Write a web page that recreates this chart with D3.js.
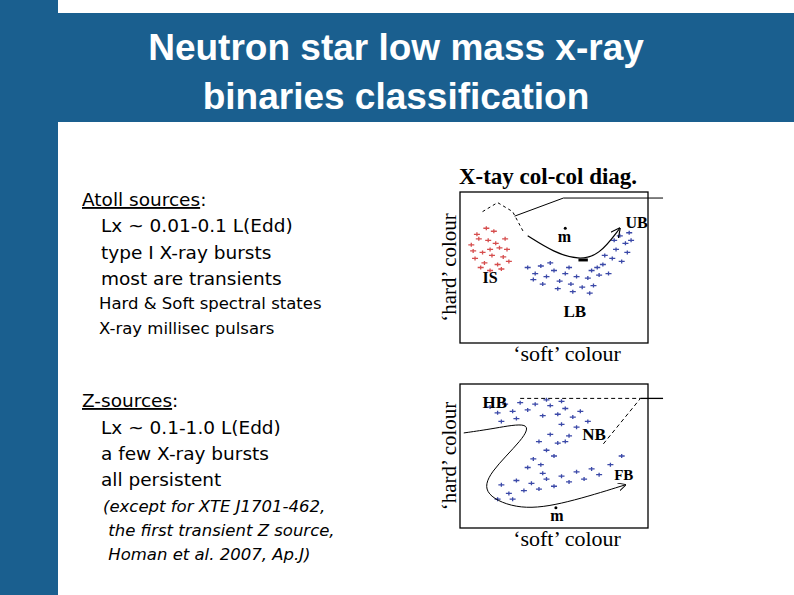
<!DOCTYPE html><html><head><meta charset="utf-8"><script src="https://cdn.jsdelivr.net/npm/d3@7"></script>
<style>body{margin:0}svg{display:block}</style></head><body><svg id="s" width="794" height="595"></svg>
<script>
const titleLines=["Neutron star low mass x-ray","binaries classification"];
const isPts=[[0.6,6.5],[0.9,7.2],[1.2,6.0],[1.5,6.8],[1.8,7.4],[2.1,6.3],[2.4,6.9],[0.8,5.6],[1.3,5.3],[1.7,5.8],[2.0,5.2],[2.3,5.7],[1.0,6.9],[1.6,6.2],[2.5,6.2],[1.4,7.6],[1.9,6.6],[0.7,6.1],[1.1,5.0],[2.2,4.9],[1.6,4.8],[2.6,5.4]];
const lbPts=[[3.6,5.0],[4.0,4.6],[4.3,5.1],[4.6,4.4],[5.0,4.8],[5.3,4.1],[5.6,4.6],[5.9,3.9],[6.2,4.4],[6.5,3.7],[6.8,4.3],[7.1,3.8],[7.4,4.5],[7.6,5.2],[7.9,4.6],[8.1,5.6],[8.3,6.2],[8.6,5.4],[8.8,6.6],[8.5,7.1],[9.0,7.3],[8.2,6.8],[7.7,5.8],[7.3,5.0],[6.0,3.4],[5.2,3.6],[4.4,3.9],[3.9,4.2],[6.9,3.3],[8.9,6.0],[9.1,6.8],[4.8,5.3],[5.8,5.0],[7.0,4.8]];
const hbPts=[[1.6,8.4],[2.0,8.0],[2.4,8.6],[2.8,8.1],[3.2,8.7],[3.6,8.2],[4.0,8.6],[4.4,7.8],[4.8,8.5],[5.2,7.9],[5.6,8.3],[6.0,7.7],[6.4,8.1],[6.8,7.4],[3.0,7.6],[2.2,7.4],[5.4,8.8],[4.6,8.9]];
const nbPts=[[6.2,7.0],[5.8,6.4],[5.4,7.2],[5.2,5.9],[4.8,6.5],[4.6,5.4],[4.2,6.0],[3.9,4.8],[4.3,4.4],[3.6,4.2],[5.0,5.0],[5.6,6.0]];
const fbPts=[[2.2,3.0],[2.6,2.4],[3.0,3.3],[3.4,2.6],[3.8,3.1],[4.2,2.7],[4.6,3.4],[5.0,2.9],[5.4,3.6],[5.8,3.2],[6.2,3.9],[6.6,3.4],[7.0,4.1],[7.4,3.7],[8.0,4.4],[2.0,2.0],[2.8,2.0],[4.4,3.8],[8.6,5.0]];
const atollLines=["Lx ~ 0.01-0.1 L(Edd)","type I X-ray bursts","most are transients"];
const atollSmall=["Hard & Soft spectral states","X-ray millisec pulsars"];
const zLines=["Lx ~ 0.1-1.0 L(Edd)","a few X-ray bursts","all persistent"];
const zSmall=["(except for XTE J1701-462,"," the first transient Z source,"," Homan et al. 2007, Ap.J)"];
const svg=d3.select("#s");
const blue="#1a5f8f";
svg.append("rect").attr("width",794).attr("height",595).attr("fill","#fff");
svg.append("rect").attr("x",0).attr("y",0).attr("width",58).attr("height",595).attr("fill",blue);
svg.append("rect").attr("x",58).attr("y",13).attr("width",736).attr("height",109).attr("fill",blue);
titleLines.forEach((t,i)=>svg.append("text").attr("x",396).attr("y",60+49*i).attr("text-anchor","middle").attr("fill","#fff").attr("font-family","Liberation Sans").attr("font-weight","bold").attr("font-size",37).text(t));
const ff="DejaVu Sans";
function txt(x,y,t,sz,o={}){const e=svg.append("text").attr("x",x).attr("y",y).attr("font-family",ff).attr("font-size",sz).attr("fill","#000").attr("xml:space","preserve").text(t);if(o.it)e.attr("font-style","italic");return e;}
const a=svg.append("text").attr("x",82).attr("y",206).attr("font-family",ff).attr("font-size",18.5);
a.append("tspan").attr("text-decoration","underline").text("Atoll sources");a.append("tspan").text(":");
atollLines.forEach((t,i)=>txt(101,232+26.5*i,t,18.5));
atollSmall.forEach((t,i)=>txt(99,309+24.5*i,t,16.5));
const z=svg.append("text").attr("x",82).attr("y",407).attr("font-family",ff).attr("font-size",18.5);
z.append("tspan").attr("text-decoration","underline").text("Z-sources");z.append("tspan").text(":");
zLines.forEach((t,i)=>txt(101,434+26*i,t,18.5));
zSmall.forEach((t,i)=>txt(103,512+24*i,t,16.5,{it:true}));
const serif="Liberation Serif";
function panel(y0,y1){
 const x=d3.scaleLinear([0,10],[460,648]), y=d3.scaleLinear([0,10],[y1,y0]);
 svg.append("rect").attr("x",460).attr("y",y0).attr("width",188).attr("height",y1-y0).attr("fill","none").attr("stroke","#000").attr("stroke-width",1.3);
 svg.append("text").attr("transform",`translate(456,${(y0+y1)/2}) rotate(-90)`).attr("text-anchor","middle").attr("font-family",serif).attr("font-size",21).text("‘hard’ colour");
 svg.append("text").attr("x",567).attr("y",y1+18).attr("text-anchor","middle").attr("font-family",serif).attr("font-size",22).text("‘soft’ colour");
 return {x,y};
}
const defs=svg.append("defs");
defs.append("marker").attr("id","ar").attr("viewBox","0 0 10 10").attr("refX",9).attr("refY",5).attr("markerWidth",8).attr("markerHeight",8).attr("orient","auto").append("path").attr("d","M0,0L10,5L0,10").attr("fill","none").attr("stroke","#000").attr("stroke-width",1.2);
function pts(p,data,c){svg.append("g").selectAll("path").data(data).join("path").attr("d",d=>`M${p.x(d[0])-3},${p.y(d[1])}l6,0M${p.x(d[0])},${p.y(d[1])-2}l0,4`).attr("stroke",c).attr("stroke-width",1.3).attr("opacity",0.85);}
function line(p,d,o={}){const g=d3.line().x(q=>p.x(q[0])).y(q=>p.y(q[1])).curve(o.curve||d3.curveLinear);const e=svg.append("path").attr("d",g(d)).attr("fill","none").attr("stroke","#000").attr("stroke-width",o.w||1);if(o.dash)e.attr("stroke-dasharray",o.dash);if(o.arrow)e.attr("marker-end","url(#ar)");return e;}
function lab(p,x,y,t,sz=15){svg.append("text").attr("x",p.x(x)).attr("y",p.y(y)).attr("font-family",serif).attr("font-weight","bold").attr("font-size",sz).text(t);}
svg.append("text").attr("x",548).attr("y",184).attr("text-anchor","middle").attr("font-family",serif).attr("font-weight","bold").attr("font-size",23).text("X-tay col-col diag.");
const p1=panel(192,343);
pts(p1,isPts,"#d03030");pts(p1,lbPts,"#1a2a9a");
line(p1,[[1.2,8.7],[2,9.3],[2.8,8.7],[3.4,7.3]],{dash:"3,3"});
line(p1,[[2.9,8.4],[5.5,9.6],[10.8,9.6]]);
line(p1,[[3.6,7.1],[5,6.0],[6.3,5.5],[7.4,5.8],[8.5,7.6]],{curve:d3.curveBasis,arrow:true,w:1.2});
svg.append("line").attr("x1",p1.x(6.3)).attr("x2",p1.x(6.8)).attr("y1",p1.y(5.5)).attr("y2",p1.y(5.5)).attr("stroke","#000").attr("stroke-width",3);
lab(p1,5.2,6.7,"m",16);svg.append("circle").attr("cx",p1.x(5.6)).attr("cy",p1.y(7.6)).attr("r",1.5);
lab(p1,8.8,7.6,"UB",16);lab(p1,1.2,4.0,"IS",16);lab(p1,5.5,1.7,"LB",17);
const p2=panel(384,528);
pts(p2,hbPts,"#1a2a9a");pts(p2,nbPts,"#1a2a9a");pts(p2,fbPts,"#1a2a9a");
line(p2,[[3.2,9.0],[9.6,9.0],[7.6,5.8]],{dash:"4,3"});
line(p2,[[9.6,9.0],[10.8,9.0]],{w:1.3});
line(p2,[[0.2,6.6],[1.8,6.9],[3.8,7.4],[3.4,6.2],[1.5,3.8],[1.2,2.3],[3.2,1.2],[5.6,1.7],[8.8,3.0]],{curve:d3.curveBasis,arrow:true});
lab(p2,1.2,8.3,"HB",17);lab(p2,6.5,6.1,"NB",17);lab(p2,8.2,3.3,"FB",15);lab(p2,4.8,0.5,"m",16);
svg.append("circle").attr("cx",p2.x(5.1)).attr("cy",p2.y(1.4)).attr("r",1.5);
</script></body></html>
